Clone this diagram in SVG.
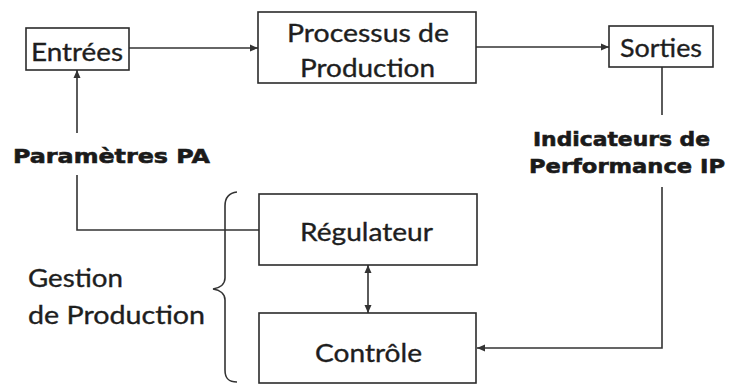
<svg xmlns="http://www.w3.org/2000/svg" width="729" height="385" viewBox="0 0 729 385">
<style>
.box{fill:#fff;stroke:#2b2b2b;stroke-width:1.6}
.t{font-family:Lato,"Open Sans","Liberation Sans",sans-serif;font-size:25px;fill:#1e1e1e;stroke:#1e1e1e;stroke-width:0.35}
.b{font-family:"DejaVu Sans","Liberation Sans",sans-serif;font-weight:bold;font-size:20px;fill:#1a1a1a;stroke:#1a1a1a;stroke-width:0.6}
.c{fill:none;stroke:#333;stroke-width:1.6}
</style>
<defs>
<marker id="ah" markerUnits="userSpaceOnUse" markerWidth="10" markerHeight="10" viewBox="0 0 10 10" refX="9" refY="5" orient="auto-start-reverse">
<path d="M1,1.5 L9,5 L1,8.5 Z" fill="#333"/>
</marker>
</defs>
<rect width="729" height="385" fill="#fff"/>
<g id="connectors">
<path class="c" d="M129,48 H258" marker-end="url(#ah)"/>
<path class="c" d="M476,47 H609" marker-end="url(#ah)"/>
<path class="c" d="M662,67 V115"/>
<path class="c" d="M662,187 V348 H477" marker-end="url(#ah)"/>
<path class="c" d="M368,265 V313" marker-start="url(#ah)" marker-end="url(#ah)"/>
<path class="c" d="M259,230 H77 V175"/>
<path class="c" d="M77,133 V70" marker-end="url(#ah)"/>
<path class="c" d="M237,192 C228,193 225,198 225,206 V278 C225,284 220,288 213,289 C220,290 225,294 225,300 V370 C225,378 228,382 237,382"/>
</g>
<g id="entrees">
<rect class="box" x="26" y="28" width="103" height="42"/>
<text class="t" x="31" y="61" textLength="92" lengthAdjust="spacingAndGlyphs">Entrées</text>
</g>
<g id="processus">
<rect class="box" x="258" y="12" width="218" height="71"/>
<text class="t" x="287" y="42" textLength="162" lengthAdjust="spacingAndGlyphs">Processus de</text>
<text class="t" x="300" y="77" textLength="135" lengthAdjust="spacingAndGlyphs">Production</text>
</g>
<g id="sorties">
<rect class="box" x="609" y="26" width="104" height="41"/>
<text class="t" x="620" y="57" textLength="82" lengthAdjust="spacingAndGlyphs">Sorties</text>
</g>
<g id="regulateur">
<rect class="box" x="259" y="194" width="218" height="71"/>
<text class="t" x="300" y="241" textLength="133" lengthAdjust="spacingAndGlyphs">Régulateur</text>
</g>
<g id="controle">
<rect class="box" x="259" y="313" width="217" height="70"/>
<text class="t" x="315" y="362" textLength="107" lengthAdjust="spacingAndGlyphs">Contrôle</text>
</g>
<g id="labels">
<text class="b" x="13" y="163" textLength="197" lengthAdjust="spacingAndGlyphs">Paramètres PA</text>
<text class="b" x="533" y="146" textLength="177" lengthAdjust="spacingAndGlyphs">Indicateurs de</text>
<text class="b" x="529" y="173" textLength="196" lengthAdjust="spacingAndGlyphs">Performance IP</text>
<text class="t" x="28" y="287" textLength="95" lengthAdjust="spacingAndGlyphs">Gestion</text>
<text class="t" x="28" y="324" textLength="177" lengthAdjust="spacingAndGlyphs">de Production</text>
</g>
</svg>
